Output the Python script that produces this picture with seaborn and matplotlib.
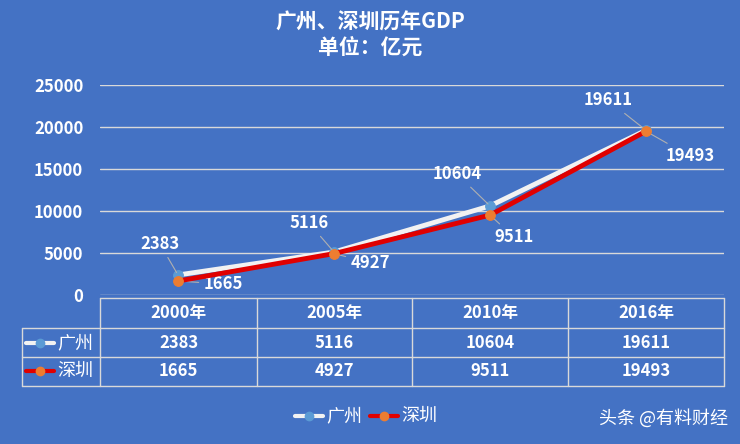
import matplotlib
matplotlib.use("Agg")
import matplotlib.pyplot as plt
import seaborn as sns
import pandas as pd
from matplotlib.lines import Line2D

years = ["2000年", "2005年", "2010年", "2016年"]
gz = [2383, 5116, 10604, 19611]
sz = [1665, 4927, 9511, 19493]
yticks = [0, 5000, 10000, 15000, 20000, 25000]

sns.set_theme(style="white")
plt.rcParams['font.family'] = ['Noto Sans CJK SC', 'DejaVu Sans']
plt.rcParams['font.weight'] = 'bold'
BG = "#4472C4"
W, H = 740, 444
fig = plt.figure(figsize=(7.4, 4.44), dpi=100, facecolor=BG)
L, R, B, T = 100, 724, 295, 85
ax = fig.add_axes([L/W, 1-B/H, (R-L)/W, (B-T)/H], facecolor=BG)

df = pd.DataFrame({"x": list(range(4))*2, "v": gz+sz, "city": ["广州"]*4+["深圳"]*4})
for y in yticks:
    ax.axhline(y, color="#D9D9D9", lw=1, zorder=0)
sns.lineplot(data=df[df.city=="广州"], x="x", y="v", ax=ax, color="#F2F2F2", lw=3.5, zorder=3,
             marker="o", markersize=7, markerfacecolor="#5B9BD5", markeredgecolor="#5B9BD5")
sns.lineplot(data=df[df.city=="深圳"], x="x", y="v", ax=ax, color="#E00000", lw=3.5, zorder=4,
             marker="o", markersize=7, markerfacecolor="#ED7D31", markeredgecolor="#ED7D31")
ax.set_xlim(-0.5, 3.5)
ax.set_ylim(0, 25000)
ax.set_yticks(yticks)
ax.set_yticklabels([str(v) for v in yticks], color="white", fontsize=12, fontweight="bold")
ax.set_xticks([])
ax.tick_params(axis="y", length=0, pad=12)
ax.set_xlabel(""); ax.set_ylabel("")
for s in ax.spines.values():
    s.set_visible(False)
if ax.get_legend():
    ax.get_legend().remove()

k = 0.72
gz_px = [(-18, 31), (-25, 29), (-33, 32), (-38, 30)]
sz_px = [(45, -3), (36, -9), (24, -22), (44, -25)]
for i in range(4):
    ax.annotate(str(gz[i]), (i, gz[i]), xytext=(gz_px[i][0]*k, gz_px[i][1]*k), textcoords="offset points",
                color="white", fontsize=12, fontweight="bold", ha="center", va="center",
                arrowprops=dict(arrowstyle="-", color="#B0B0B0", lw=0.8, shrinkA=1, shrinkB=2))
    ax.annotate(str(sz[i]), (i, sz[i]), xytext=(sz_px[i][0]*k, sz_px[i][1]*k), textcoords="offset points",
                color="white", fontsize=12, fontweight="bold", ha="center", va="center",
                arrowprops=dict(arrowstyle="-", color="#B0B0B0", lw=0.8, shrinkA=1, shrinkB=2))

fig.text(0.5, 1-22/H, "广州、深圳历年GDP", color="white", fontsize=15, fontweight="bold", ha="center", va="center")
fig.text(0.5, 1-47/H, "单位：亿元", color="white", fontsize=15, fontweight="bold", ha="center", va="center")

def fx(x): return x/W
def fy(y): return 1-y/H
rows = [298, 328, 357, 386]
cols = [L, 257, 412, 568, R]
lc = "#D9D9D9"
for y in rows:
    x0 = L if y == rows[0] else 22
    fig.add_artist(Line2D([fx(x0), fx(R)], [fy(y), fy(y)], color=lc, lw=1))
for x in cols:
    fig.add_artist(Line2D([fx(x), fx(x)], [fy(rows[0]), fy(rows[3])], color=lc, lw=1))
fig.add_artist(Line2D([fx(22), fx(22)], [fy(rows[1]), fy(rows[3])], color=lc, lw=1))
for i in range(4):
    cx = (cols[i]+cols[i+1])/2
    fig.text(fx(cx), fy((rows[0]+rows[1])/2), years[i], color="white", fontsize=12, fontweight="bold", ha="center", va="center")
    fig.text(fx(cx), fy((rows[1]+rows[2])/2), str(gz[i]), color="white", fontsize=12, fontweight="bold", ha="center", va="center")
    fig.text(fx(cx), fy((rows[2]+rows[3])/2), str(sz[i]), color="white", fontsize=12, fontweight="bold", ha="center", va="center")

def key(x, y, lcol, mcol, name):
    yy = fy(y)
    fig.add_artist(Line2D([fx(x), fx(x+28)], [yy, yy], color=lcol, lw=3))
    fig.add_artist(Line2D([fx(x+14)], [yy], marker="o", color=mcol, markersize=6))
    fig.text(fx(x+31), yy, name, color="white", fontsize=13, fontweight="normal", ha="left", va="center")
key(26, 343, "#F2F2F2", "#5B9BD5", "广州")
key(26, 371, "#E00000", "#ED7D31", "深圳")
key(295, 416, "#F2F2F2", "#5B9BD5", "广州")
key(370, 416, "#E00000", "#ED7D31", "深圳")

fig.text(fx(728), fy(418), "头条 @有料财经", color="white", fontsize=13, fontweight="normal", ha="right", va="center")

fig.savefig("out.png", dpi=100, facecolor=BG)
